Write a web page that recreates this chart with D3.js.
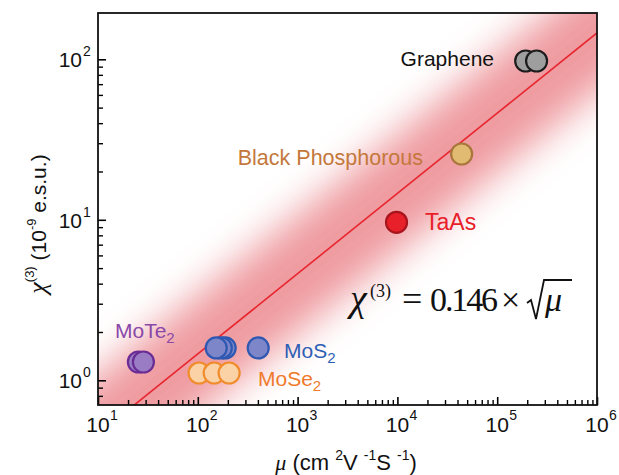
<!DOCTYPE html>
<html>
<head>
<meta charset="utf-8">
<script src="https://cdn.jsdelivr.net/npm/d3@7"></script>
<style>
  body { margin: 0; background: #fff; }
</style>
</head>
<body>
<script>
// values
var materials = ["Graphene", "Black Phosphorous", "TaAs", "MoS2", "MoSe2", "MoTe2"];
var mobility = [
  [193000, 248000],
  [44000],
  [9800],
  [403, 188, 172, 153],
  [103, 146, 206],
  [25.4, 28.5]
];
var chi3 = [
  [97.6, 97.6],
  [25.7],
  [9.65],
  [1.59, 1.59, 1.59, 1.59],
  [1.11, 1.11, 1.11],
  [1.30, 1.30]
];
var fillColors = ["#9e9e9e", "#e2bb72", "#e8202a", "#7c86c9", "#fbd2a6", "#9a7cc4"];
var strokeColors = ["#1c1c1c", "#a9763c", "#a8141c", "#2f58b2", "#f08c2c", "#6a2c94"];
var labelColors = ["#111111", "#c4783c", "#e8202a", "#2f5fb5", "#f07a2c", "#8a48a8"];
var xTickExps = [1, 2, 3, 4, 5, 6];
var yTickExps = [0, 1, 2];
var fitCoef = 0.146;

var W = 619, H = 475;
var pLeft = 98, pTop = 13, pRight = 597, pBottom = 405;
var serif = "'Liberation Serif', 'Times New Roman', serif";

var x = d3.scaleLog().domain([10, 1e6]).range([pLeft, pRight]);
var y = d3.scaleLog().domain([0.7016, 194.3]).range([pBottom, pTop]);

var svg = d3.select("body").append("svg")
    .attr("width", W)
    .attr("height", H)
    .style("font-family", "'Liberation Sans', Arial, sans-serif");

var defs = svg.append("defs");
defs.append("clipPath").attr("id", "plotclip")
  .append("rect")
    .attr("x", pLeft).attr("y", pTop)
    .attr("width", pRight - pLeft).attr("height", pBottom - pTop);
defs.append("filter").attr("id", "glow")
    .attr("x", "-50%").attr("y", "-50%").attr("width", "200%").attr("height", "200%")
  .append("feGaussianBlur").attr("stdDeviation", 19);

var plot = svg.append("g").attr("clip-path", "url(#plotclip)");

// fit line points
var fitMu = [1, 10, 100, 1e3, 1e4, 1e5, 1e6, 1e7];
var fitLine = d3.line()
    .x(d => x(d))
    .y(d => y(fitCoef * Math.sqrt(d)));

// pink glow band
plot.append("path")
    .attr("d", fitLine(fitMu))
    .attr("fill", "none")
    .attr("stroke", "#e8747c")
    .attr("stroke-width", 92)
    .attr("opacity", 0.72)
    .attr("filter", "url(#glow)");

plot.append("path")
    .attr("d", fitLine(fitMu))
    .attr("fill", "none")
    .attr("stroke", "#e8262e")
    .attr("stroke-width", 1.6);

// axes ticks (inside)
var xMinor = [], yMinor = [];
for (var e = 1; e < 6; e++) {
  for (var k = 2; k <= 9; k++) xMinor.push(k * Math.pow(10, e));
}
[0.8, 0.9].forEach(v => yMinor.push(v));
for (var e = 0; e < 2; e++) {
  for (var k = 2; k <= 9; k++) yMinor.push(k * Math.pow(10, e));
}

svg.append("g")
    .attr("transform", "translate(0," + pBottom + ")")
    .call(d3.axisBottom(x).tickValues(xTickExps.map(p => Math.pow(10, p))).tickSize(-8).tickFormat(""))
    .call(g => g.select(".domain").remove())
    .selectAll("line").attr("stroke-width", 1.6);
svg.append("g")
    .attr("transform", "translate(0," + pBottom + ")")
    .call(d3.axisBottom(x).tickValues(xMinor).tickSize(-5).tickFormat(""))
    .call(g => g.select(".domain").remove())
    .selectAll("line").attr("stroke-width", 1.4);

svg.append("g")
    .attr("transform", "translate(" + pLeft + ",0)")
    .call(d3.axisLeft(y).tickValues(yTickExps.map(p => Math.pow(10, p))).tickSize(-8).tickFormat(""))
    .call(g => g.select(".domain").remove())
    .selectAll("line").attr("stroke-width", 1.6);
svg.append("g")
    .attr("transform", "translate(" + pLeft + ",0)")
    .call(d3.axisLeft(y).tickValues(yMinor).tickSize(-5).tickFormat(""))
    .call(g => g.select(".domain").remove())
    .selectAll("line").attr("stroke-width", 1.4);

// frame
svg.append("rect")
    .attr("x", pLeft).attr("y", pTop)
    .attr("width", pRight - pLeft).attr("height", pBottom - pTop)
    .attr("fill", "none")
    .attr("stroke", "#111")
    .attr("stroke-width", 1.8);

// tick labels
xTickExps.forEach(function(p) {
  var cx = x(Math.pow(10, p));
  svg.append("text")
      .attr("x", cx).attr("y", 432)
      .attr("text-anchor", "middle")
      .attr("font-size", 21)
      .attr("fill", "#111")
      .text("10");
  svg.append("text")
      .attr("x", cx + 12).attr("y", 420)
      .attr("font-size", 14)
      .attr("fill", "#111")
      .text(p);
});
yTickExps.forEach(function(p) {
  var cy = y(Math.pow(10, p));
  svg.append("text")
      .attr("x", 82).attr("y", cy + 8)
      .attr("text-anchor", "end")
      .attr("font-size", 21)
      .attr("fill", "#111")
      .text("10");
  svg.append("text")
      .attr("x", 83).attr("y", cy - 3)
      .attr("font-size", 14)
      .attr("fill", "#111")
      .text(p);
});

// axis titles
var xt = svg.append("text")
    .attr("x", 346).attr("y", 470)
    .attr("text-anchor", "middle")
    .attr("font-size", 22)
    .attr("fill", "#111");
xt.append("tspan").style("font-family", serif).attr("font-style", "italic").text("\u03bc");
xt.append("tspan").text("   (cm ");
xt.append("tspan").attr("font-size", 14).attr("dy", -10).text("2");
xt.append("tspan").attr("dy", 10).text("V ");
xt.append("tspan").attr("font-size", 14).attr("dy", -10).text("-1");
xt.append("tspan").attr("dy", 10).text("S ");
xt.append("tspan").attr("font-size", 14).attr("dy", -10).text("-1");
xt.append("tspan").attr("dy", 10).text(")");

var yt = svg.append("text")
    .attr("transform", "translate(46,224) rotate(-90)")
    .attr("text-anchor", "middle")
    .attr("font-size", 21)
    .attr("fill", "#111");
yt.append("tspan").style("font-family", serif).attr("font-style", "italic").attr("font-size", 26).text("\u03c7");
yt.append("tspan").attr("font-size", 13).attr("dy", -12).text("(3)");
yt.append("tspan").attr("dy", 12).text(" (10");
yt.append("tspan").attr("font-size", 13).attr("dy", -10).text("-9");
yt.append("tspan").attr("dy", 10).text(" e.s.u.)");

// data points
var points = [];
materials.forEach(function(m, i) {
  mobility[i].forEach(function(mu, j) {
    points.push({ mu: mu, chi: chi3[i][j], fill: fillColors[i], stroke: strokeColors[i] });
  });
});
svg.selectAll("circle.pt")
  .data(points)
  .enter()
    .append("circle")
    .attr("class", "pt")
    .attr("cx", d => x(d.mu))
    .attr("cy", d => y(d.chi))
    .attr("r", 10.5)
    .attr("fill", d => d.fill)
    .attr("stroke", d => d.stroke)
    .attr("stroke-width", 2.2);

// point labels
var labelPos = [
  { x: 494, y: 66, anchor: "end", size: 21 },
  { x: 423, y: 165, anchor: "end", size: 21.5 },
  { x: 425, y: 230, anchor: "start", size: 23 },
  { x: 284, y: 358, anchor: "start", size: 21 },
  { x: 258, y: 386, anchor: "start", size: 21 },
  { x: 115, y: 338, anchor: "start", size: 21 }
];
materials.forEach(function(m, i) {
  var t = svg.append("text")
      .attr("x", labelPos[i].x).attr("y", labelPos[i].y)
      .attr("text-anchor", labelPos[i].anchor)
      .attr("font-size", labelPos[i].size)
      .attr("fill", labelColors[i]);
  if (m.endsWith("2")) {
    t.append("tspan").text(m.slice(0, -1));
    t.append("tspan").attr("font-size", 15).attr("dy", 5).text("2");
  } else {
    t.text(m);
  }
});

// formula, pieces placed where they sit in the picture
var fy = 311;
var formula = svg.append("g")
    .style("font-family", serif)
    .attr("fill", "#111");
formula.append("text").attr("x", 350).attr("y", fy)
    .attr("font-size", 38).attr("font-style", "italic").text("\u03c7");
formula.append("text").attr("x", 370).attr("y", fy - 14)
    .attr("font-size", 18).text("(3)");
formula.append("text").attr("x", 402).attr("y", fy)
    .attr("font-size", 36).text("=");
formula.append("text").attr("x", 430).attr("y", fy)
    .attr("font-size", 34).attr("textLength", 68).text("0.146");
formula.append("text").attr("x", 501).attr("y", fy)
    .attr("font-size", 34).text("\u00d7");
formula.append("path")
    .attr("d", "M527," + (fy - 8) + " l4,-3 l5,19 l8,-39 H572")
    .attr("fill", "none")
    .attr("stroke", "#111")
    .attr("stroke-width", 1.8);
formula.append("text").attr("x", 545).attr("y", fy)
    .attr("font-size", 34).attr("font-style", "italic").text("\u03bc");
</script>
</body>
</html>
